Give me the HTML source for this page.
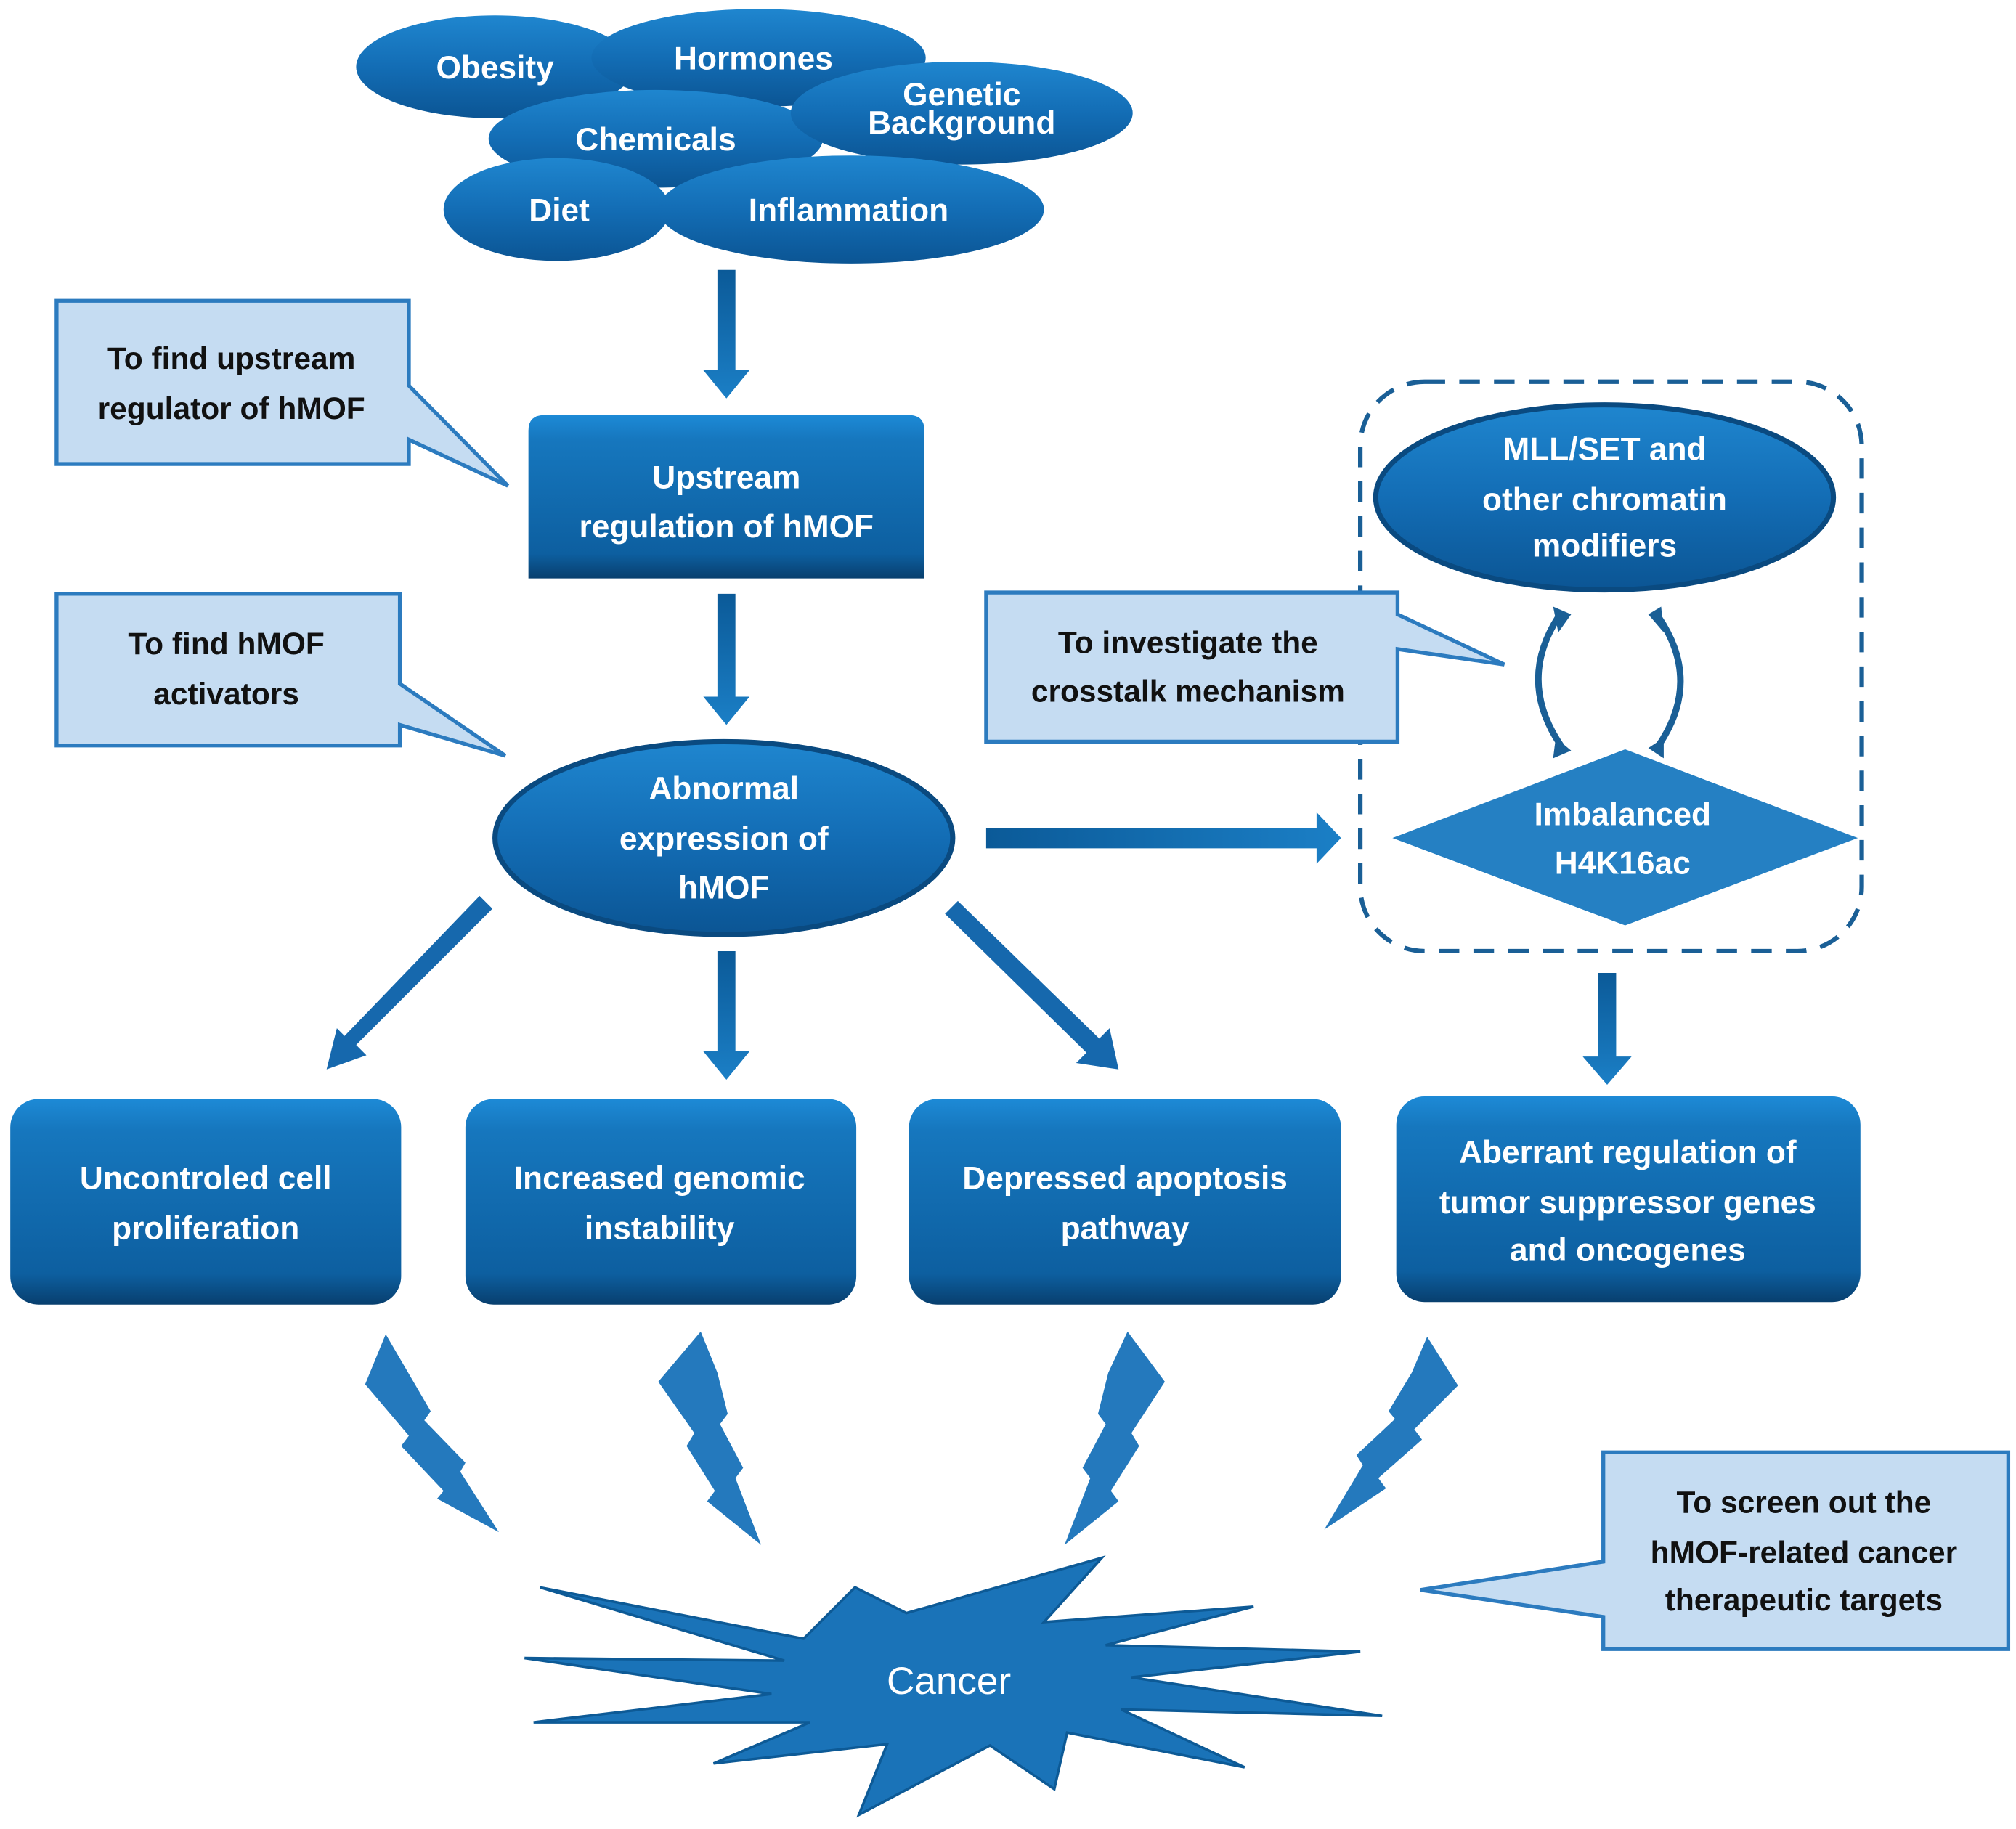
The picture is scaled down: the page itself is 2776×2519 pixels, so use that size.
<!DOCTYPE html>
<html><head><meta charset="utf-8"><style>
html,body{margin:0;padding:0;background:#fff;}
svg{display:block;}
text{font-family:"Liberation Sans",sans-serif;font-weight:bold;}
</style></head><body>
<svg width="2776" height="2519" viewBox="0 0 1568 1423" preserveAspectRatio="none" xmlns="http://www.w3.org/2000/svg">
<defs>
<linearGradient id="eg" x1="0" y1="0" x2="0" y2="1">
<stop offset="0" stop-color="#1f86cf"/><stop offset="0.5" stop-color="#136db5"/><stop offset="1" stop-color="#0b5594"/></linearGradient>
<linearGradient id="bg" x1="0" y1="0" x2="0" y2="1">
<stop offset="0" stop-color="#1d8ad6"/><stop offset="0.15" stop-color="#1677be"/><stop offset="0.85" stop-color="#0d5fa0"/><stop offset="1" stop-color="#083f6e"/></linearGradient>
<linearGradient id="ag" x1="0" y1="0" x2="1" y2="0">
<stop offset="0" stop-color="#0b5a98"/><stop offset="1" stop-color="#1b7fc6"/></linearGradient>
<linearGradient id="av" x1="0" y1="0" x2="0" y2="1">
<stop offset="0" stop-color="#0b5a98"/><stop offset="1" stop-color="#1b7fc6"/></linearGradient>
</defs>

<g fill="url(#eg)">
<ellipse cx="385" cy="52" rx="108" ry="40"/>
<ellipse cx="590" cy="45" rx="130" ry="38"/>
<ellipse cx="510" cy="108" rx="130" ry="38"/>
<ellipse cx="748" cy="88" rx="133" ry="40"/>
<ellipse cx="433" cy="163" rx="88" ry="40"/>
<ellipse cx="662" cy="163" rx="150" ry="42"/>
</g>
<g fill="#fff" font-size="25" text-anchor="middle">
<text x="385" y="61">Obesity</text>
<text x="586" y="54">Hormones</text>
<text x="510" y="117">Chemicals</text>
<text x="748" y="82">Genetic</text>
<text x="748" y="104">Background</text>
<text x="435" y="172">Diet</text>
<text x="660" y="172">Inflammation</text>
</g>

<g fill="url(#av)">
<polygon points="558,210 572,210 572,288 583,288 565,310 547,288 558,288"/>
<polygon points="558,462 572,462 572,542 583,542 565,564 547,542 558,542"/>
<polygon points="558,740 572,740 572,818 583,818 565,840 547,818 558,818"/>
<polygon points="1243,757 1257,757 1257,822 1269,822 1250,844 1231,822 1243,822"/>
</g>
<polygon fill="url(#ag)" points="767,644 1024,644 1024,632 1043,652 1024,672 1024,660 767,660"/>
<g fill="#1668ad">
<polygon points="373,697 383,707 277,813 285,821 254,832 262,800 268,806"/>
<polygon points="745,701 735,711 845,819 837,827 870,832 863,800 855,808"/>
</g>

<polygon points="44,234 318,234 318,300 395,378 318,342 318,361 44,361" fill="#c5dcf2" stroke="#2c7bbf" stroke-width="3"/>
<g font-size="24" text-anchor="middle" fill="#111">
<text x="180" y="287">To find upstream</text>
<text x="180" y="326">regulator of hMOF</text>
</g>
<polygon points="44,462 311,462 311,532 393,588 311,564 311,580 44,580" fill="#c5dcf2" stroke="#2c7bbf" stroke-width="3"/>
<g font-size="24" text-anchor="middle" fill="#111">
<text x="176" y="509">To find hMOF</text>
<text x="176" y="548">activators</text>
</g>

<path d="M411,450 L411,335 Q411,323 423,323 L707,323 Q719,323 719,335 L719,450 Z" fill="url(#bg)"/>
<g font-size="25" text-anchor="middle" fill="#fff">
<text x="565" y="380">Upstream</text>
<text x="565" y="418">regulation of hMOF</text>
</g>

<ellipse cx="563" cy="652" rx="178" ry="75" fill="url(#eg)"/>
<ellipse cx="563" cy="652" rx="178" ry="75" fill="none" stroke="#0a4a80" stroke-width="4"/>
<g font-size="25" text-anchor="middle" fill="#fff">
<text x="563" y="622">Abnormal</text>
<text x="563" y="661">expression of</text>
<text x="563" y="699">hMOF</text>
</g>

<rect x="1058" y="297" width="390" height="443" rx="50" fill="none" stroke="#1a5f96" stroke-width="3.5" stroke-dasharray="16,11"/>

<ellipse cx="1248" cy="387" rx="178" ry="72" fill="url(#eg)"/>
<ellipse cx="1248" cy="387" rx="178" ry="72" fill="none" stroke="#0a4a80" stroke-width="4"/>
<g font-size="25" text-anchor="middle" fill="#fff">
<text x="1248" y="358">MLL/SET and</text>
<text x="1248" y="397">other chromatin</text>
<text x="1248" y="433">modifiers</text>
</g>

<polygon points="767,461 1087,461 1087,478 1170,517 1087,505 1087,577 767,577" fill="#c5dcf2" stroke="#2c7bbf" stroke-width="3"/>
<g font-size="24" text-anchor="middle" fill="#111">
<text x="924" y="508">To investigate the</text>
<text x="924" y="546">crosstalk mechanism</text>
</g>

<g fill="none" stroke="#1a5f96" stroke-width="5" stroke-linecap="round">
<path d="M1212,480 Q1180,530 1214,580"/>
<path d="M1290,480 Q1324,530 1290,580"/>
</g>
<g fill="#1a5f96">
<polygon points="1208,472 1222,478 1212,492"/>
<polygon points="1210,574 1222,584 1208,590"/>
<polygon points="1292,472 1282,478 1294,492"/>
<polygon points="1294,574 1282,582 1294,590"/>
</g>

<polygon points="1264,583 1445,652 1264,720 1083,652" fill="#2580c3"/>
<g font-size="25" text-anchor="middle" fill="#fff">
<text x="1262" y="642">Imbalanced</text>
<text x="1262" y="680">H4K16ac</text>
</g>

<g fill="url(#bg)">
<rect x="8" y="855" width="304" height="160" rx="22"/>
<rect x="362" y="855" width="304" height="160" rx="22"/>
<rect x="707" y="855" width="336" height="160" rx="22"/>
<rect x="1086" y="853" width="361" height="160" rx="22"/>
</g>
<g font-size="25" text-anchor="middle" fill="#fff">
<text x="160" y="925">Uncontroled cell</text>
<text x="160" y="964">proliferation</text>
<text x="513" y="925">Increased genomic</text>
<text x="513" y="964">instability</text>
<text x="875" y="925">Depressed apoptosis</text>
<text x="875" y="964">pathway</text>
<text x="1266" y="905">Aberrant regulation of</text>
<text x="1266" y="944">tumor suppressor genes</text>
<text x="1266" y="981">and oncogenes</text>
</g>

<g fill="#2479bd">
<polygon points="300,1038 284,1077 318,1117 312,1125 345,1160 340,1166 388,1192 358,1145 362,1138 330,1105 335,1098 314,1062"/>
<polygon points="545,1036 512,1075 540,1115 534,1125 556,1160 550,1168 592,1202 572,1150 578,1142 560,1108 566,1100 558,1068"/>
<polygon points="877,1036 906,1075 880,1115 886,1125 864,1160 870,1168 828,1202 848,1150 842,1142 860,1108 854,1100 862,1068"/>
<polygon points="1110,1040 1134,1078 1100,1112 1106,1120 1072,1150 1078,1158 1030,1190 1060,1140 1055,1132 1085,1104 1080,1098 1098,1068"/>
</g>

<polygon fill="#1a73b8" stroke="#0d5a96" stroke-width="2" points="420,1235 625,1275 665,1235 705,1255 857,1212 812,1262 975,1250 860,1280 1058,1285 880,1305 1075,1335 872,1330 968,1375 830,1348 820,1392 770,1358 668,1412 690,1357 555,1372 630,1340 415,1340 600,1318 408,1290 610,1292"/>
<text x="738" y="1318" font-size="30" text-anchor="middle" fill="#fff" style="font-weight:normal">Cancer</text>

<polygon points="1247,1130 1562,1130 1562,1283 1247,1283 1247,1258 1105,1237 1247,1215" fill="#c5dcf2" stroke="#2c7bbf" stroke-width="3"/>
<g font-size="24" text-anchor="middle" fill="#111">
<text x="1403" y="1177">To screen out the</text>
<text x="1403" y="1216">hMOF-related cancer</text>
<text x="1403" y="1253">therapeutic targets</text>
</g>
</svg>
</body></html>
